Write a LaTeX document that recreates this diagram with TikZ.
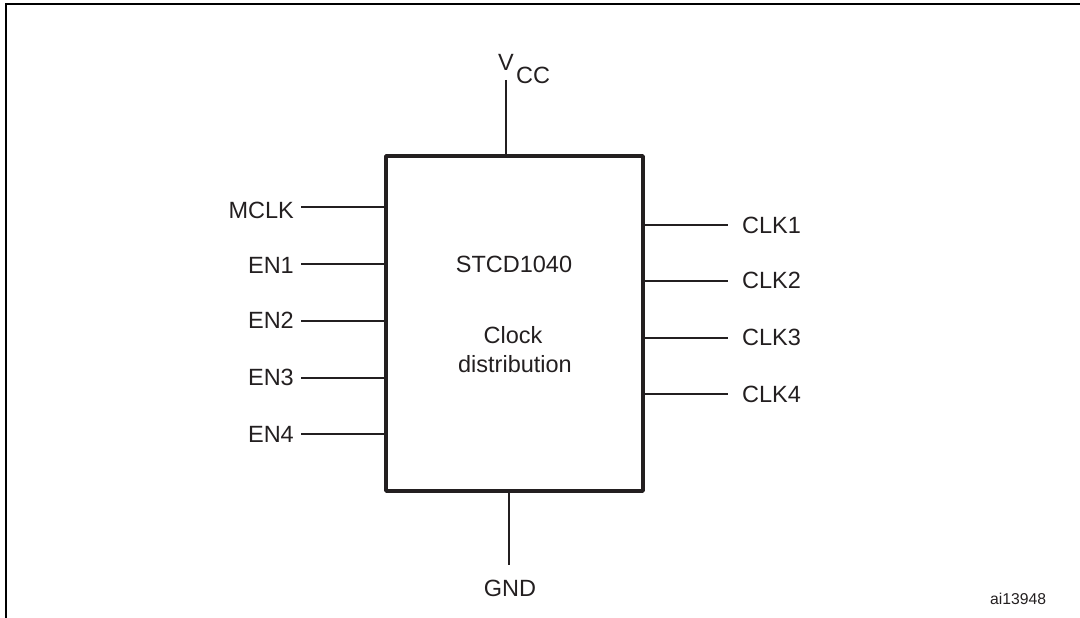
\documentclass[tikz,border=0pt]{standalone}
\usepackage{fontspec}
\setmainfont{Liberation Sans}
\definecolor{txt}{HTML}{231F20}
\begin{document}
\begin{tikzpicture}[x=1pt,y=-1pt,
  lbl/.style={inner sep=0pt,text=txt,font=\fontsize{23.5}{27}\selectfont},
  pin/.style={line width=2.8pt,draw=txt},
  chip/.style={draw=txt,line width=3.8pt,line join=round,inner sep=0pt,minimum width=257pt,minimum height=335pt}]
\useasboundingbox (0,0) rectangle (1080,618);
\draw[line width=2.6pt] (6,618) -- (6,4) -- (1080,4);
\node[chip] (box) at (514.5,323.5) {};
% centre text
\node[lbl,anchor=base] (part) at (514,272) {STCD1040};
\node[lbl,anchor=base] (fn1) at (513,343) {Clock};
\node[lbl,anchor=base] (fn2) at (515,372) {distribution};
% supply
\node[lbl,anchor=base west] (vcc) at (498,71) {V};
\node[lbl,anchor=base west] (vccsub) at (516,84) {CC};
\coordinate (vtop) at (506,80);
\draw[pin] (vtop) -- (vtop |- box.north);
\coordinate (gbot) at (509,565);
\draw[pin] (gbot |- box.south) -- (gbot);
\node[lbl,anchor=base] (gnd) at (510,596) {GND};
% left pins
\foreach \name/\txt/\y/\b in {mclk/MCLK/207/218, en1/EN1/264/273, en2/EN2/321/328, en3/EN3/378/385, en4/EN4/434/442}{
  \node[lbl,anchor=base east] (\name) at (294,\b) {\txt};
  \coordinate (\name-end) at (301,\y);
  \draw[pin] (\name-end) -- (\name-end -| box.west);
}
% right pins
\foreach \name/\txt/\y/\b in {clk1/CLK1/225/233, clk2/CLK2/281/288, clk3/CLK3/338/345, clk4/CLK4/394/402}{
  \node[lbl,anchor=base west] (\name) at (742,\b) {\txt};
  \coordinate (\name-end) at (728,\y);
  \draw[pin] (\name-end -| box.east) -- (\name-end);
}
\node[inner sep=0pt,text=txt,font=\fontsize{15.7}{18}\selectfont,anchor=base west] (code) at (990,604) {ai13948};
\end{tikzpicture}
\end{document}
